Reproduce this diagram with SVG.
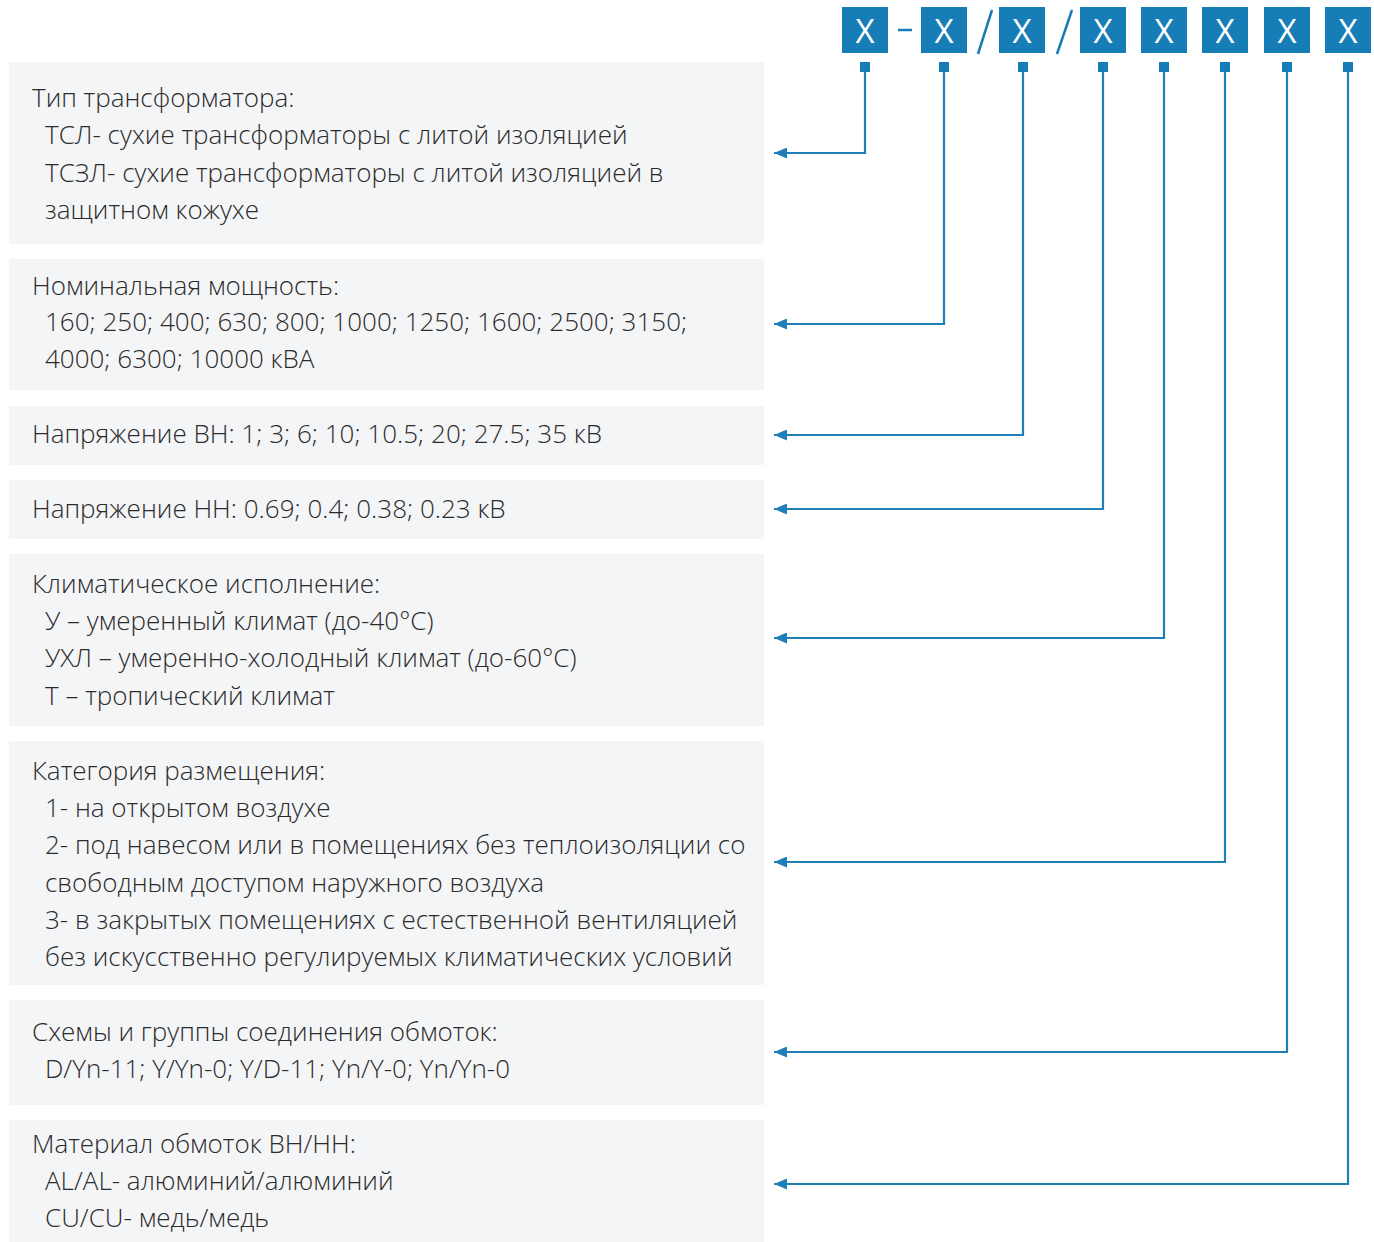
<svg xmlns="http://www.w3.org/2000/svg" width="1374" height="1242" viewBox="0 0 1374 1242">
<defs>
<style>
.panel{fill:#f4f5f7}
.t{font-family:"Open Sans","Noto Sans","Liberation Sans",sans-serif;font-size:26px;font-weight:300;fill:#2b2b2b}
.box{fill:#177db6}
.bx{font-family:"Open Sans","Liberation Sans",sans-serif;font-size:33px;fill:#ffffff;text-anchor:middle}
.sq{fill:#177db6}
.con{fill:none;stroke:#1f80b8;stroke-width:2.2}
.sep{stroke:#177db6;stroke-width:2.5}
</style>
<marker id="ah" markerWidth="13" markerHeight="11" refX="13" refY="5.5" orient="auto" markerUnits="userSpaceOnUse" viewBox="0 0 13 11">
<path d="M0,0 L13,5.5 L0,11 Z" fill="#1f80b8"/>
</marker>
</defs>
<rect width="1374" height="1242" fill="#ffffff"/>

<g id="code">
<rect class="box" x="842" y="7" width="46" height="46"/><text class="bx" x="865" y="43">X</text>
<line class="sep" x1="898" y1="30" x2="912" y2="30"/>
<rect class="box" x="921" y="7" width="46" height="46"/><text class="bx" x="944" y="43">X</text>
<line class="sep" x1="978" y1="54" x2="992" y2="10"/>
<rect class="box" x="999" y="7" width="46" height="46"/><text class="bx" x="1022" y="43">X</text>
<line class="sep" x1="1057" y1="54" x2="1072" y2="10"/>
<rect class="box" x="1080" y="7" width="46" height="46"/><text class="bx" x="1103" y="43">X</text>
<rect class="box" x="1141" y="7" width="46" height="46"/><text class="bx" x="1164" y="43">X</text>
<rect class="box" x="1202" y="7" width="46" height="46"/><text class="bx" x="1225" y="43">X</text>
<rect class="box" x="1264" y="7" width="46" height="46"/><text class="bx" x="1287" y="43">X</text>
<rect class="box" x="1325" y="7" width="46" height="46"/><text class="bx" x="1348" y="43">X</text>
</g>

<g id="n1">
<rect class="panel" x="9" y="62" width="755" height="182"/>
<text class="t" x="32" y="107">Тип трансформатора:</text>
<text class="t" x="45" y="144">ТСЛ- сухие трансформаторы с литой изоляцией</text>
<text class="t" x="45" y="182">ТСЗЛ- сухие трансформаторы с литой изоляцией в</text>
<text class="t" x="45" y="219">защитном кожухе</text>
</g>
<g id="n2">
<rect class="panel" x="9" y="259" width="755" height="131"/>
<text class="t" x="32" y="295">Номинальная мощность:</text>
<text class="t" x="45" y="331">160; 250; 400; 630; 800; 1000; 1250; 1600; 2500; 3150;</text>
<text class="t" x="45" y="368">4000; 6300; 10000 кВА</text>
</g>
<g id="n3">
<rect class="panel" x="9" y="406" width="755" height="59"/>
<text class="t" x="32" y="443">Напряжение ВН: 1; 3; 6; 10; 10.5; 20; 27.5; 35 кВ</text>
</g>
<g id="n4">
<rect class="panel" x="9" y="480" width="755" height="59"/>
<text class="t" x="32" y="518">Напряжение НН: 0.69; 0.4; 0.38; 0.23 кВ</text>
</g>
<g id="n5">
<rect class="panel" x="9" y="554" width="755" height="172"/>
<text class="t" x="32" y="593">Климатическое исполнение:</text>
<text class="t" x="45" y="630">У – умеренный климат (до-40°С)</text>
<text class="t" x="45" y="667">УХЛ – умеренно-холодный климат (до-60°С)</text>
<text class="t" x="45" y="705">Т – тропический климат</text>
</g>
<g id="n6">
<rect class="panel" x="9" y="741" width="755" height="244"/>
<text class="t" x="32" y="780">Категория размещения:</text>
<text class="t" x="45" y="817">1- на открытом воздухе</text>
<text class="t" x="45" y="854">2- под навесом или в помещениях без теплоизоляции со</text>
<text class="t" x="45" y="892">свободным доступом наружного воздуха</text>
<text class="t" x="45" y="929">3- в закрытых помещениях с естественной вентиляцией</text>
<text class="t" x="45" y="966">без искусственно регулируемых климатических условий</text>
</g>
<g id="n7">
<rect class="panel" x="9" y="1000" width="755" height="105"/>
<text class="t" x="32" y="1041">Схемы и группы соединения обмоток:</text>
<text class="t" x="45" y="1078">D/Yn-11; Y/Yn-0; Y/D-11; Yn/Y-0; Yn/Yn-0</text>
</g>
<g id="n8">
<rect class="panel" x="9" y="1120" width="755" height="122"/>
<text class="t" x="32" y="1153">Материал обмоток ВН/НН:</text>
<text class="t" x="45" y="1190">AL/AL- алюминий/алюминий</text>
<text class="t" x="45" y="1227">CU/CU- медь/медь</text>
</g>

<g id="connectors">
<rect class="sq" x="860" y="62" width="10" height="10"/>
<rect class="sq" x="939" y="62" width="10" height="10"/>
<rect class="sq" x="1018" y="62" width="10" height="10"/>
<rect class="sq" x="1098" y="62" width="10" height="10"/>
<rect class="sq" x="1159" y="62" width="10" height="10"/>
<rect class="sq" x="1220" y="62" width="10" height="10"/>
<rect class="sq" x="1282" y="62" width="10" height="10"/>
<rect class="sq" x="1343" y="62" width="10" height="10"/>
<path class="con" d="M865,72 V153 H774" marker-end="url(#ah)"/>
<path class="con" d="M944,72 V324 H774" marker-end="url(#ah)"/>
<path class="con" d="M1023,72 V435 H774" marker-end="url(#ah)"/>
<path class="con" d="M1103,72 V509 H774" marker-end="url(#ah)"/>
<path class="con" d="M1164,72 V638 H774" marker-end="url(#ah)"/>
<path class="con" d="M1225,72 V862 H774" marker-end="url(#ah)"/>
<path class="con" d="M1287,72 V1052 H774" marker-end="url(#ah)"/>
<path class="con" d="M1348,72 V1184 H774" marker-end="url(#ah)"/>
</g>
</svg>
